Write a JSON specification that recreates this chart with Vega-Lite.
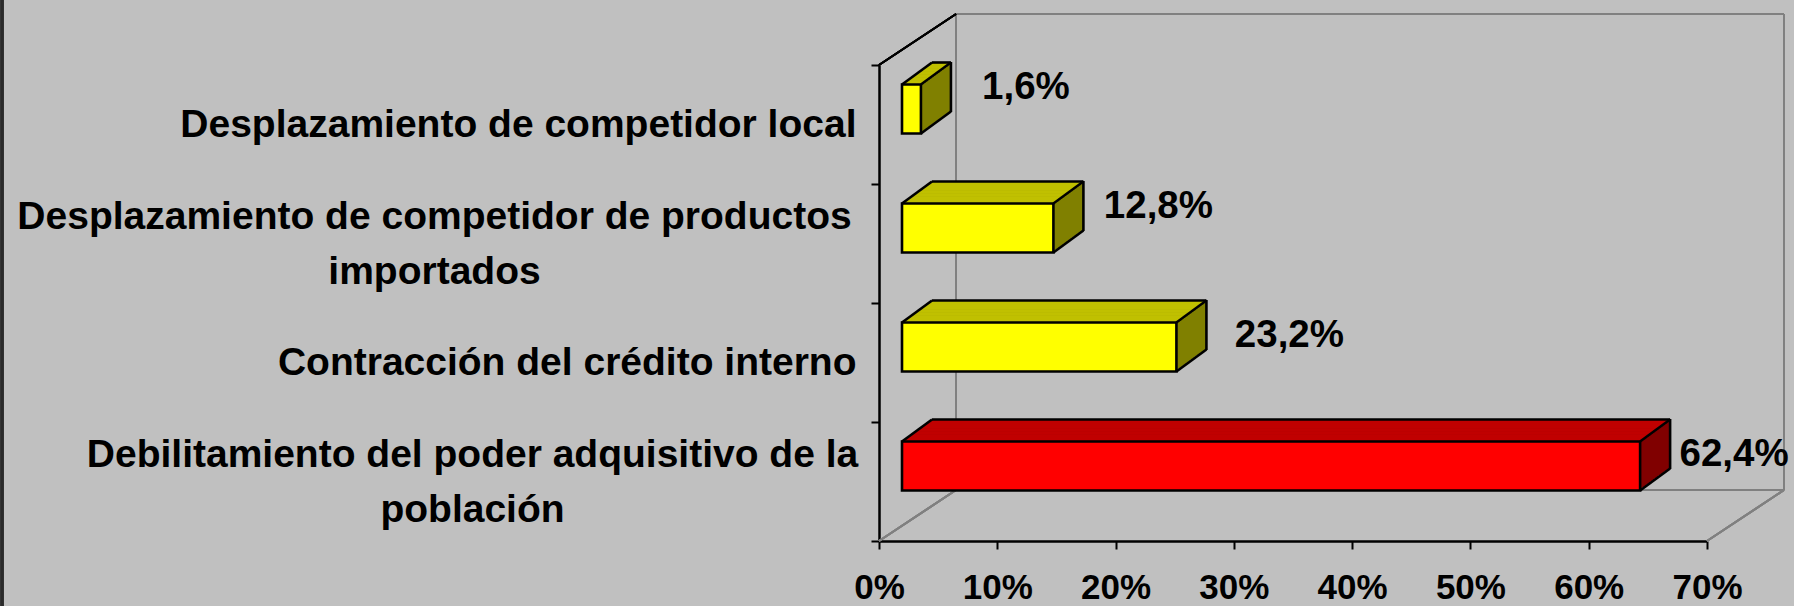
{
  "$schema": "https://vega.github.io/schema/vega-lite/v6.json",
  "width": 828,
  "height": 476,
  "autosize": "none",
  "padding": {"left": 879, "top": 65, "right": 87, "bottom": 65},
  "background": "#C0C0C0",
  "config": {
    "view": {"stroke": null},
    "locale": {"number": {"decimal": ",", "thousands": ".", "grouping": [3], "currency": ["", " €"]}},
    "font": "Liberation Sans"
  },
  "data": {"values": [
    {"causa": "Desplazamiento de competidor local", "porcentaje": 0.016, "principal": false},
    {"causa": "Desplazamiento de competidor de productos importados", "porcentaje": 0.128, "principal": false},
    {"causa": "Contracción del crédito interno", "porcentaje": 0.232, "principal": false},
    {"causa": "Debilitamiento del poder adquisitivo de la población", "porcentaje": 0.624, "principal": true}
  ]},
  "layer": [
    {"mark": {"type": "bar", "height": 49, "xOffset": 53, "x2Offset": 53, "yOffset": -37.5},
     "encoding": {
       "x": {"field": "porcentaje", "type": "quantitative", "title": null, "scale": {"domain": [0, 0.7], "nice": false},
             "axis": {"format": ".0%", "values": [0, 0.1, 0.2, 0.3, 0.4, 0.5, 0.6, 0.7], "grid": false, "domainColor": "#000000", "domainWidth": 2.5, "tickColor": "#000000", "tickWidth": 2, "tickSize": 8, "labelFont": "Liberation Sans", "labelFontWeight": "bold", "labelFontSize": 35, "labelColor": "#000000", "labelPadding": 21, "labelFlush": false, "labelOverlap": false, "title": null}},
       "y": {"field": "causa", "type": "nominal", "title": null, "sort": null,
             "scale": {"domain": ["Desplazamiento de competidor local", "Desplazamiento de competidor de productos importados", "Contracción del crédito interno", "Debilitamiento del poder adquisitivo de la población"], "paddingInner": 0, "paddingOuter": 0},
             "axis": {"title": null, "tickBand": "extent", "domainColor": "#000000", "domainWidth": 2.5, "tickColor": "#000000", "tickWidth": 2, "tickSize": 8,
                      "labelFont": "Liberation Sans", "labelFontWeight": "bold", "labelFontSize": 39, "labelColor": "#000000", "labelLimit": 0, "labelLineHeight": 55,
                      "labelExpr": "length(datum.label) > 43 ? [substring(datum.label, 0, lastindexof(substring(datum.label, 0, 43), ' ')), substring(datum.label, lastindexof(substring(datum.label, 0, 43), ' ') + 1)] : datum.label",
                      "labelAlign": {"condition": {"test": "length(datum.label) > 43", "value": "center"}, "value": "right"},
                      "labelOffset": {"condition": {"test": "length(datum.label) > 43", "value": -27}, "value": 0},
                      "labelPadding": {"condition": [{"test": "indexof(datum.label, 'productos') >= 0", "value": 437}, {"test": "indexof(datum.label, 'población') >= 0", "value": 399}], "value": 15}}},
       "color": {"condition": {"test": "datum.principal", "value": "#800000"}, "value": "#808000"}}},

    {"mark": {"type": "rule", "stroke": "#808080", "strokeWidth": 2, "xOffset": 77, "x2Offset": 77, "yOffset": -51},
     "encoding": {"x": {"datum": 0, "type": "quantitative"}, "x2": {"datum": 0.7}, "y": {"value": 0}}},
    {"mark": {"type": "rule", "stroke": "#808080", "strokeWidth": 2, "xOffset": 77, "x2Offset": 77, "yOffset": -51},
     "encoding": {"x": {"datum": 0, "type": "quantitative"}, "x2": {"datum": 0.7}, "y": {"value": "height"}}},
    {"mark": {"type": "rule", "stroke": "#808080", "strokeWidth": 2, "xOffset": 77, "yOffset": -51, "y2Offset": -51},
     "encoding": {"x": {"datum": 0, "type": "quantitative"}, "y": {"value": 0}, "y2": {"value": "height"}}},
    {"mark": {"type": "rule", "stroke": "#808080", "strokeWidth": 2, "xOffset": 77, "yOffset": -51, "y2Offset": -51},
     "encoding": {"x": {"datum": 0.7, "type": "quantitative"}, "y": {"value": 0}, "y2": {"value": "height"}}},
    {"mark": {"type": "rule", "stroke": "#808080", "strokeWidth": 2, "x2Offset": 77, "y2Offset": -51},
     "encoding": {"x": {"datum": 0, "type": "quantitative"}, "x2": {"datum": 0}, "y": {"value": "height"}, "y2": {"value": "height"}}},
    {"mark": {"type": "rule", "stroke": "#808080", "strokeWidth": 2, "x2Offset": 77, "y2Offset": -51},
     "encoding": {"x": {"datum": 0.7, "type": "quantitative"}, "x2": {"datum": 0.7}, "y": {"value": "height"}, "y2": {"value": "height"}}},
    {"mark": {"type": "rule", "stroke": "#000000", "strokeWidth": 2, "x2Offset": 77, "y2Offset": -51},
     "encoding": {"x": {"datum": 0, "type": "quantitative"}, "x2": {"datum": 0}, "y": {"value": 0}, "y2": {"value": 0}}},
    {"mark": {"type": "rule", "stroke": "#2a2a2a", "strokeWidth": 3, "yOffset": -65, "y2Offset": 65},
     "encoding": {"x": {"datum": -0.7414, "type": "quantitative"}, "y": {"value": 0}, "y2": {"value": "height"}}},

    {"mark": {"type": "bar", "height": 49, "xOffset": 53, "x2Offset": 53, "yOffset": -37.5}, "encoding": {"x": {"field": "porcentaje", "type": "quantitative", "title": null}, "y": {"field": "causa", "type": "nominal", "title": null}, "color": {"condition": {"test": "datum.principal", "value": "#800000"}, "value": "#808000"}}},
    {"mark": {"type": "bar", "height": 49, "xOffset": 51, "x2Offset": 51, "yOffset": -36.03}, "encoding": {"x": {"field": "porcentaje", "type": "quantitative", "title": null}, "y": {"field": "causa", "type": "nominal", "title": null}, "color": {"condition": {"test": "datum.principal", "value": "#800000"}, "value": "#808000"}}},
    {"mark": {"type": "bar", "height": 49, "xOffset": 49, "x2Offset": 49, "yOffset": -34.57}, "encoding": {"x": {"field": "porcentaje", "type": "quantitative", "title": null}, "y": {"field": "causa", "type": "nominal", "title": null}, "color": {"condition": {"test": "datum.principal", "value": "#800000"}, "value": "#808000"}}},
    {"mark": {"type": "bar", "height": 49, "xOffset": 47, "x2Offset": 47, "yOffset": -33.1}, "encoding": {"x": {"field": "porcentaje", "type": "quantitative", "title": null}, "y": {"field": "causa", "type": "nominal", "title": null}, "color": {"condition": {"test": "datum.principal", "value": "#800000"}, "value": "#808000"}}},
    {"mark": {"type": "bar", "height": 49, "xOffset": 45, "x2Offset": 45, "yOffset": -31.63}, "encoding": {"x": {"field": "porcentaje", "type": "quantitative", "title": null}, "y": {"field": "causa", "type": "nominal", "title": null}, "color": {"condition": {"test": "datum.principal", "value": "#800000"}, "value": "#808000"}}},
    {"mark": {"type": "bar", "height": 49, "xOffset": 43, "x2Offset": 43, "yOffset": -30.17}, "encoding": {"x": {"field": "porcentaje", "type": "quantitative", "title": null}, "y": {"field": "causa", "type": "nominal", "title": null}, "color": {"condition": {"test": "datum.principal", "value": "#800000"}, "value": "#808000"}}},
    {"mark": {"type": "bar", "height": 49, "xOffset": 41, "x2Offset": 41, "yOffset": -28.7}, "encoding": {"x": {"field": "porcentaje", "type": "quantitative", "title": null}, "y": {"field": "causa", "type": "nominal", "title": null}, "color": {"condition": {"test": "datum.principal", "value": "#800000"}, "value": "#808000"}}},
    {"mark": {"type": "bar", "height": 49, "xOffset": 39, "x2Offset": 39, "yOffset": -27.23}, "encoding": {"x": {"field": "porcentaje", "type": "quantitative", "title": null}, "y": {"field": "causa", "type": "nominal", "title": null}, "color": {"condition": {"test": "datum.principal", "value": "#800000"}, "value": "#808000"}}},
    {"mark": {"type": "bar", "height": 49, "xOffset": 37, "x2Offset": 37, "yOffset": -25.77}, "encoding": {"x": {"field": "porcentaje", "type": "quantitative", "title": null}, "y": {"field": "causa", "type": "nominal", "title": null}, "color": {"condition": {"test": "datum.principal", "value": "#800000"}, "value": "#808000"}}},
    {"mark": {"type": "bar", "height": 49, "xOffset": 35, "x2Offset": 35, "yOffset": -24.3}, "encoding": {"x": {"field": "porcentaje", "type": "quantitative", "title": null}, "y": {"field": "causa", "type": "nominal", "title": null}, "color": {"condition": {"test": "datum.principal", "value": "#800000"}, "value": "#808000"}}},
    {"mark": {"type": "bar", "height": 49, "xOffset": 33, "x2Offset": 33, "yOffset": -22.83}, "encoding": {"x": {"field": "porcentaje", "type": "quantitative", "title": null}, "y": {"field": "causa", "type": "nominal", "title": null}, "color": {"condition": {"test": "datum.principal", "value": "#800000"}, "value": "#808000"}}},
    {"mark": {"type": "bar", "height": 49, "xOffset": 31, "x2Offset": 31, "yOffset": -21.37}, "encoding": {"x": {"field": "porcentaje", "type": "quantitative", "title": null}, "y": {"field": "causa", "type": "nominal", "title": null}, "color": {"condition": {"test": "datum.principal", "value": "#800000"}, "value": "#808000"}}},
    {"mark": {"type": "bar", "height": 49, "xOffset": 29, "x2Offset": 29, "yOffset": -19.9}, "encoding": {"x": {"field": "porcentaje", "type": "quantitative", "title": null}, "y": {"field": "causa", "type": "nominal", "title": null}, "color": {"condition": {"test": "datum.principal", "value": "#800000"}, "value": "#808000"}}},
    {"mark": {"type": "bar", "height": 49, "xOffset": 27, "x2Offset": 27, "yOffset": -18.43}, "encoding": {"x": {"field": "porcentaje", "type": "quantitative", "title": null}, "y": {"field": "causa", "type": "nominal", "title": null}, "color": {"condition": {"test": "datum.principal", "value": "#800000"}, "value": "#808000"}}},
    {"mark": {"type": "bar", "height": 49, "xOffset": 25, "x2Offset": 25, "yOffset": -16.97}, "encoding": {"x": {"field": "porcentaje", "type": "quantitative", "title": null}, "y": {"field": "causa", "type": "nominal", "title": null}, "color": {"condition": {"test": "datum.principal", "value": "#800000"}, "value": "#808000"}}},

    {"mark": {"type": "bar", "height": 2, "xOffset": 53, "x2Offset": 53, "yOffset": -61}, "encoding": {"x": {"field": "porcentaje", "type": "quantitative", "title": null}, "y": {"field": "causa", "type": "nominal", "title": null}, "color": {"condition": {"test": "datum.principal", "value": "#C00000"}, "value": "#C0C000"}}},
    {"mark": {"type": "bar", "height": 2, "xOffset": 51, "x2Offset": 51, "yOffset": -59.53}, "encoding": {"x": {"field": "porcentaje", "type": "quantitative", "title": null}, "y": {"field": "causa", "type": "nominal", "title": null}, "color": {"condition": {"test": "datum.principal", "value": "#C00000"}, "value": "#C0C000"}}},
    {"mark": {"type": "bar", "height": 2, "xOffset": 49, "x2Offset": 49, "yOffset": -58.07}, "encoding": {"x": {"field": "porcentaje", "type": "quantitative", "title": null}, "y": {"field": "causa", "type": "nominal", "title": null}, "color": {"condition": {"test": "datum.principal", "value": "#C00000"}, "value": "#C0C000"}}},
    {"mark": {"type": "bar", "height": 2, "xOffset": 47, "x2Offset": 47, "yOffset": -56.6}, "encoding": {"x": {"field": "porcentaje", "type": "quantitative", "title": null}, "y": {"field": "causa", "type": "nominal", "title": null}, "color": {"condition": {"test": "datum.principal", "value": "#C00000"}, "value": "#C0C000"}}},
    {"mark": {"type": "bar", "height": 2, "xOffset": 45, "x2Offset": 45, "yOffset": -55.13}, "encoding": {"x": {"field": "porcentaje", "type": "quantitative", "title": null}, "y": {"field": "causa", "type": "nominal", "title": null}, "color": {"condition": {"test": "datum.principal", "value": "#C00000"}, "value": "#C0C000"}}},
    {"mark": {"type": "bar", "height": 2, "xOffset": 43, "x2Offset": 43, "yOffset": -53.67}, "encoding": {"x": {"field": "porcentaje", "type": "quantitative", "title": null}, "y": {"field": "causa", "type": "nominal", "title": null}, "color": {"condition": {"test": "datum.principal", "value": "#C00000"}, "value": "#C0C000"}}},
    {"mark": {"type": "bar", "height": 2, "xOffset": 41, "x2Offset": 41, "yOffset": -52.2}, "encoding": {"x": {"field": "porcentaje", "type": "quantitative", "title": null}, "y": {"field": "causa", "type": "nominal", "title": null}, "color": {"condition": {"test": "datum.principal", "value": "#C00000"}, "value": "#C0C000"}}},
    {"mark": {"type": "bar", "height": 2, "xOffset": 39, "x2Offset": 39, "yOffset": -50.73}, "encoding": {"x": {"field": "porcentaje", "type": "quantitative", "title": null}, "y": {"field": "causa", "type": "nominal", "title": null}, "color": {"condition": {"test": "datum.principal", "value": "#C00000"}, "value": "#C0C000"}}},
    {"mark": {"type": "bar", "height": 2, "xOffset": 37, "x2Offset": 37, "yOffset": -49.27}, "encoding": {"x": {"field": "porcentaje", "type": "quantitative", "title": null}, "y": {"field": "causa", "type": "nominal", "title": null}, "color": {"condition": {"test": "datum.principal", "value": "#C00000"}, "value": "#C0C000"}}},
    {"mark": {"type": "bar", "height": 2, "xOffset": 35, "x2Offset": 35, "yOffset": -47.8}, "encoding": {"x": {"field": "porcentaje", "type": "quantitative", "title": null}, "y": {"field": "causa", "type": "nominal", "title": null}, "color": {"condition": {"test": "datum.principal", "value": "#C00000"}, "value": "#C0C000"}}},
    {"mark": {"type": "bar", "height": 2, "xOffset": 33, "x2Offset": 33, "yOffset": -46.33}, "encoding": {"x": {"field": "porcentaje", "type": "quantitative", "title": null}, "y": {"field": "causa", "type": "nominal", "title": null}, "color": {"condition": {"test": "datum.principal", "value": "#C00000"}, "value": "#C0C000"}}},
    {"mark": {"type": "bar", "height": 2, "xOffset": 31, "x2Offset": 31, "yOffset": -44.87}, "encoding": {"x": {"field": "porcentaje", "type": "quantitative", "title": null}, "y": {"field": "causa", "type": "nominal", "title": null}, "color": {"condition": {"test": "datum.principal", "value": "#C00000"}, "value": "#C0C000"}}},
    {"mark": {"type": "bar", "height": 2, "xOffset": 29, "x2Offset": 29, "yOffset": -43.4}, "encoding": {"x": {"field": "porcentaje", "type": "quantitative", "title": null}, "y": {"field": "causa", "type": "nominal", "title": null}, "color": {"condition": {"test": "datum.principal", "value": "#C00000"}, "value": "#C0C000"}}},
    {"mark": {"type": "bar", "height": 2, "xOffset": 27, "x2Offset": 27, "yOffset": -41.93}, "encoding": {"x": {"field": "porcentaje", "type": "quantitative", "title": null}, "y": {"field": "causa", "type": "nominal", "title": null}, "color": {"condition": {"test": "datum.principal", "value": "#C00000"}, "value": "#C0C000"}}},
    {"mark": {"type": "bar", "height": 2, "xOffset": 25, "x2Offset": 25, "yOffset": -40.47}, "encoding": {"x": {"field": "porcentaje", "type": "quantitative", "title": null}, "y": {"field": "causa", "type": "nominal", "title": null}, "color": {"condition": {"test": "datum.principal", "value": "#C00000"}, "value": "#C0C000"}}},

    {"mark": {"type": "bar", "height": 49, "xOffset": 23, "x2Offset": 23, "yOffset": -15.5, "stroke": "#000000", "strokeWidth": 2.6},
     "encoding": {"x": {"field": "porcentaje", "type": "quantitative", "title": null}, "y": {"field": "causa", "type": "nominal", "title": null}, "color": {"condition": {"test": "datum.principal", "value": "#FF0000"}, "value": "#FFFF00"}}},

    {"mark": {"type": "bar", "height": 2.6, "xOffset": 53, "x2Offset": 53, "yOffset": -62, "color": "#000000"},
     "encoding": {"x": {"field": "porcentaje", "type": "quantitative", "title": null}, "y": {"field": "causa", "type": "nominal", "title": null}}},
    {"mark": {"type": "tick", "color": "#000000", "size": 50, "thickness": 2.6, "xOffset": 53, "yOffset": -37.5, "opacity": 1},
     "encoding": {"x": {"field": "porcentaje", "type": "quantitative", "title": null}, "y": {"field": "causa", "type": "nominal", "title": null}}},
    {"mark": {"type": "rule", "color": "#000000", "strokeWidth": 2.6, "xOffset": 23, "x2Offset": 53, "yOffset": -40, "y2Offset": -62},
     "encoding": {"x": {"datum": 0, "type": "quantitative"}, "x2": {"datum": 0}, "y": {"field": "causa", "type": "nominal", "title": null}, "y2": {"field": "causa"}}},
    {"mark": {"type": "rule", "color": "#000000", "strokeWidth": 2.6, "xOffset": 23, "x2Offset": 53, "yOffset": -40, "y2Offset": -62},
     "encoding": {"x": {"field": "porcentaje", "type": "quantitative", "title": null}, "x2": {"field": "porcentaje"}, "y": {"field": "causa", "type": "nominal", "title": null}, "y2": {"field": "causa"}}},
    {"mark": {"type": "rule", "color": "#000000", "strokeWidth": 2.6, "xOffset": 23, "x2Offset": 53, "yOffset": 9, "y2Offset": -13},
     "encoding": {"x": {"field": "porcentaje", "type": "quantitative", "title": null}, "x2": {"field": "porcentaje"}, "y": {"field": "causa", "type": "nominal", "title": null}, "y2": {"field": "causa"}}},

    {"transform": [{"filter": "datum.porcentaje < 0.2"}],
     "mark": {"type": "text", "align": "center", "baseline": "middle", "dx": 128, "dy": -38, "font": "Liberation Sans", "fontWeight": "bold", "fontSize": 38.5, "color": "#000000"},
     "encoding": {"x": {"field": "porcentaje", "type": "quantitative", "title": null}, "y": {"field": "causa", "type": "nominal", "title": null}, "text": {"field": "porcentaje", "type": "quantitative", "format": ".1%"}}},
    {"transform": [{"filter": "datum.porcentaje >= 0.2 && datum.porcentaje < 0.5"}],
     "mark": {"type": "text", "align": "center", "baseline": "middle", "dx": 136, "dy": -28, "font": "Liberation Sans", "fontWeight": "bold", "fontSize": 38.5, "color": "#000000"},
     "encoding": {"x": {"field": "porcentaje", "type": "quantitative", "title": null}, "y": {"field": "causa", "type": "nominal", "title": null}, "text": {"field": "porcentaje", "type": "quantitative", "format": ".1%"}}},
    {"transform": [{"filter": "datum.porcentaje >= 0.5"}],
     "mark": {"type": "text", "align": "center", "baseline": "middle", "dx": 117, "dy": -28, "font": "Liberation Sans", "fontWeight": "bold", "fontSize": 38.5, "color": "#000000"},
     "encoding": {"x": {"field": "porcentaje", "type": "quantitative", "title": null}, "y": {"field": "causa", "type": "nominal", "title": null}, "text": {"field": "porcentaje", "type": "quantitative", "format": ".1%"}}}
  ]
}
